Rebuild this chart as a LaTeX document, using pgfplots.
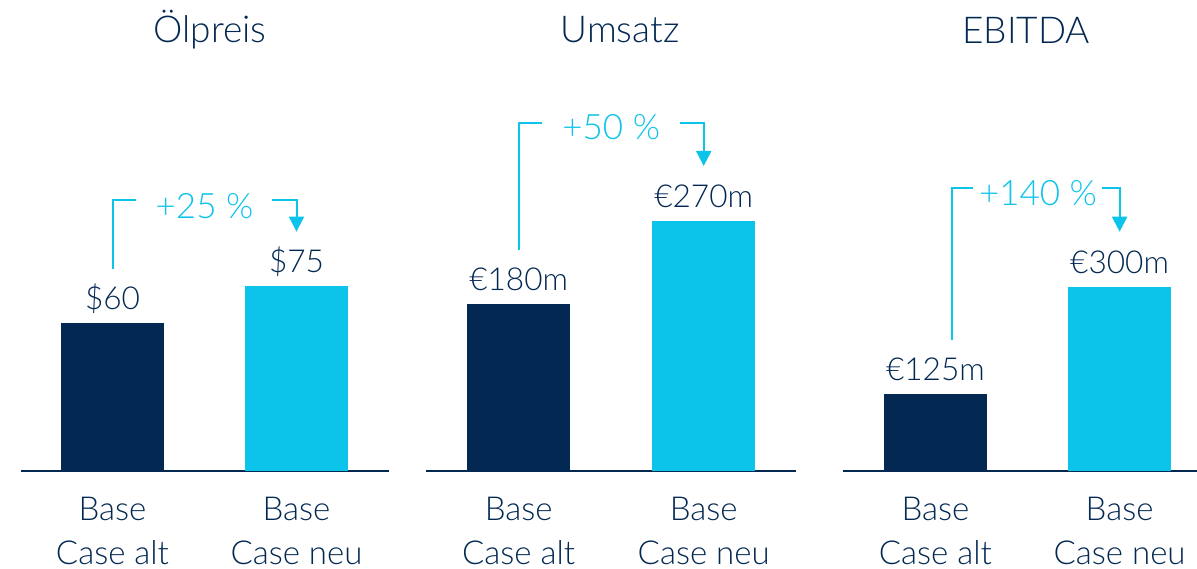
\documentclass[border=0pt]{standalone}
\usepackage{fontspec}
\setmainfont{Lato Light}
\usepackage{pgfplots}
\pgfplotsset{compat=1.18}
\usetikzlibrary{arrows.meta}
\definecolor{navy}{RGB}{3,40,82}
\definecolor{cyanbar}{RGB}{12,196,233}

\pgfplotsset{
  every axis title shift=0pt,
  panel/.style={
    scale only axis, anchor=south west,
    xmin=0.5, ymin=0,
    axis x line*=bottom, axis y line=none,
    x axis line style={-, navy, line width=1pt},
    xtick={1,2}, xticklabels={{Base\\Case alt},{Base\\Case neu}},
    major tick length=0pt,
    % base anchor of a two-line node is the last line
    xticklabel style={anchor=base, yshift=-47.2pt, align=center, text=navy,
      inner sep=0pt, text depth=0pt, font=\fontsize{16.5}{22}\selectfont},
    ybar, bar width=51.35pt, bar shift=0pt,
    clip=false,
    nodes near coords, point meta=explicit symbolic,
    nodes near coords style={anchor=base, yshift=6.75pt, inner sep=0pt, text=navy,
      font=\fontsize{15.8}{18}\selectfont},
    title style={anchor=base, at={(0.5,1)}, yshift=0pt, text=navy,
      font=\fontsize{18.5}{21}\selectfont},
  },
}
\tikzset{
  pct/.style={cyanbar, line width=1pt},
  pcttext/.style={anchor=base, text=cyanbar, font=\fontsize{17.5}{21}\selectfont},
}

\begin{document}
\begin{tikzpicture}
\useasboundingbox (0,0) rectangle (598.5pt,284pt);

% Ölpreis
\begin{axis}[panel, at={(10.25pt,48.75pt)}, x=92pt, y=1.2315pt,
  xmax=2.5, ymax=173.6, title={Ölpreis}, title style={xshift=2.8pt}]
\addplot[fill=navy, draw=none] coordinates {(1,60) [\$60]};
\addplot[fill=cyanbar, draw=none] coordinates {(2,75) [\$75]};
\draw[pct] (axis cs:1,81.8) -- (axis cs:1,109.8) -- (axis cs:1.13,109.8);
\draw[pct, -{Triangle[width=7.5pt,length=7.5pt]}]
  (axis cs:1.866,109.8) -- (axis cs:2,109.8) -- (axis cs:2,97.0);
\node[pcttext] at (axis cs:1.5,102.5) {+25 \%};
\end{axis}

% Umsatz
\begin{axis}[panel, at={(213.1pt,48.75pt)}, x=92.5pt, y=0.4617pt,
  xmax=2.5, ymax=463.0, title={Umsatz}, title style={xshift=4.4pt}]
\addplot[fill=navy, draw=none] coordinates {(1,180) [€180m]};
\addplot[fill=cyanbar, draw=none] coordinates {(2,270) [€270m]};
\draw[pct] (axis cs:1,238.8) -- (axis cs:1,376.7) -- (axis cs:1.124,376.7);
\draw[pct, -{Triangle[width=7.5pt,length=7.5pt]}]
  (axis cs:1.872,376.7) -- (axis cs:2,376.7) -- (axis cs:2,329.8);
\node[pcttext] at (axis cs:1.5,358.0) {+50 \%};
\end{axis}

% EBITDA
\begin{axis}[panel, at={(421.65pt,48.75pt)}, x=92.1pt, y=0.306pt,
  xmax=2.42, ymax=698.5, title={EBITDA}, title style={xshift=3pt}]
\addplot[fill=navy, draw=none] coordinates {(1,125) [€125m]};
\addplot[fill=cyanbar, draw=none] coordinates {(2,300) [€300m]};
\draw[pct] (axis cs:1.092,213.2) -- (axis cs:1.092,461.1) -- (axis cs:1.205,461.1);
\draw[pct, -{Triangle[width=7.5pt,length=7.5pt]}]
  (axis cs:1.903,461.1) -- (axis cs:2,461.1) -- (axis cs:2,390.2);
\node[pcttext] at (axis cs:1.557,433.8) {+140 \%};
\end{axis}
\end{tikzpicture}
\end{document}
